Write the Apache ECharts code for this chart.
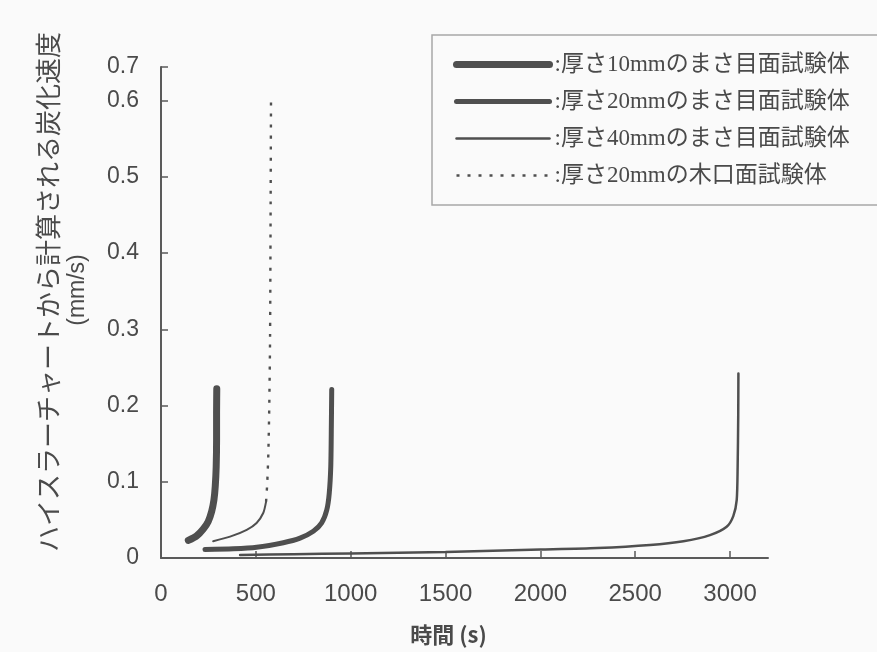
<!DOCTYPE html>
<html>
<head>
<meta charset="utf-8">
<script src="https://cdn.jsdelivr.net/npm/echarts@6/dist/echarts.min.js"></script>
<style>
  html, body { margin: 0; padding: 0; background: #fafafa; }
  #chart { width: 877px; height: 652px; }
</style>
</head>
<body>
<div id="chart"></div>
<script>
// Series names (legend text)
const seriesNames = [
  '厚さ10mmのまさ目面試験体',
  '厚さ20mmのまさ目面試験体',
  '厚さ40mmのまさ目面試験体',
  '厚さ20mmの木口面試験体'
];

// 10 mm edge-grain specimen: time (s) / charring rate (mm/s)
const t10 = [144, 188, 223, 249, 267, 279, 286, 291, 293, 293, 294];
const r10 = [0.023, 0.029, 0.038, 0.048, 0.061, 0.076, 0.094, 0.120, 0.155, 0.190, 0.222];

// 20 mm edge-grain specimen
const t20 = [232, 381, 504, 645, 733, 803, 847, 874, 887, 895, 898, 900];
const r20 = [0.011, 0.012, 0.014, 0.020, 0.026, 0.035, 0.046, 0.063, 0.085, 0.120, 0.172, 0.221];

// 40 mm edge-grain specimen
const t40 = [417, 700, 1000, 1500, 2000, 2300, 2578, 2754, 2894, 2982, 3017, 3035, 3040, 3043, 3044];
const r40 = [0.004, 0.005, 0.006, 0.008, 0.011, 0.013, 0.017, 0.022, 0.030, 0.041, 0.055, 0.076, 0.120, 0.186, 0.242];

// 20 mm end-grain specimen
const tEnd = [275, 364, 452, 504, 539, 554, 560, 566, 571, 575, 578, 580];
const rEnd = [0.022, 0.028, 0.037, 0.046, 0.059, 0.074, 0.098, 0.138, 0.203, 0.290, 0.470, 0.605];
// the low part of the end-grain curve prints as a continuous stroke, the rest dotted
const endSolidCount = 6;

// Axis ticks; the value scale is broken just above 0.6, the frame top carries 0.7
const xTickValues = [0, 500, 1000, 1500, 2000, 2500, 3000];
const yTickValues = [0, 0.1, 0.2, 0.3, 0.4, 0.5, 0.6, 0.644];
const yTickLabels = ['0', '0.1', '0.2', '0.3', '0.4', '0.5', '0.6', '0.7'];

const pairs = (xs, ys) => xs.map((x, i) => [x, ys[i]]);

const ink = '#4f4f4f';
const textColor = '#4a4a4a';
const serifJP = "'Liberation Serif', 'Noto Sans CJK JP', serif";
const sansJP = "'Noto Sans CJK JP', sans-serif";
const sansNum = "'Liberation Sans', Arial, sans-serif";

const chart = echarts.init(document.getElementById('chart'), null, { renderer: 'canvas' });

// no point markers anywhere, so the marker colour is left fully transparent
const lineBase = {
  type: 'line',
  symbol: 'none',
  smooth: 0.25,
  silent: true,
  itemStyle: { color: 'rgba(0,0,0,0)', borderWidth: 0 }
};

chart.setOption({
  backgroundColor: '#fafafa',
  animation: false,
  grid: { left: 161, right: 109, top: 67, bottom: 94, containLabel: false },
  xAxis: {
    type: 'value',
    min: 0,
    max: 3200,
    axisLine: { show: true, lineStyle: { color: '#5a5a5a', width: 2 } },
    axisTick: { show: true, inside: true, length: 7, customValues: xTickValues, lineStyle: { color: '#5a5a5a', width: 1.5 } },
    axisLabel: {
      customValues: xTickValues,
      margin: 24,
      fontSize: 24,
      color: textColor,
      fontFamily: sansNum,
      formatter: function (v) { return String(v); }
    },
    splitLine: { show: false },
    name: '時間 (s)',
    nameLocation: 'middle',
    nameGap: 66,
    nameTextStyle: { fontSize: 22, fontWeight: 'bold', color: textColor, fontFamily: sansJP, padding: [0, 32, 0, 0] }
  },
  yAxis: {
    type: 'value',
    min: 0,
    max: yTickValues[yTickValues.length - 1],
    axisLine: { show: true, lineStyle: { color: '#5a5a5a', width: 2 } },
    axisTick: { show: true, inside: true, length: 7, customValues: yTickValues, lineStyle: { color: '#5a5a5a', width: 1.5 } },
    axisLabel: {
      customValues: yTickValues,
      margin: 22,
      fontSize: 23,
      color: textColor,
      fontFamily: sansNum,
      formatter: function (v) {
        const i = yTickValues.indexOf(v);
        return i >= 0 ? yTickLabels[i] : '';
      }
    },
    splitLine: { show: false }
  },
  legend: {
    data: seriesNames,
    orient: 'vertical',
    left: 432,
    top: 35,
    padding: [18, 60, 18, 21],
    itemWidth: 93,
    itemHeight: 14,
    itemGap: 14,
    borderColor: '#a8a8a8',
    borderWidth: 1.5,
    backgroundColor: '#fafafa',
    selectedMode: false,
    lineStyle: { width: 'inherit' },
    itemStyle: { color: 'rgba(0,0,0,0)', borderWidth: 0 },
    formatter: function (name) { return ':' + name; },
    textStyle: { fontSize: 23, lineHeight: 21, color: textColor, fontFamily: serifJP }
  },
  graphic: [
    {
      type: 'text',
      x: 48,
      y: 292,
      rotation: Math.PI / 2,
      style: {
        text: 'ハイスラーチャートから計算される炭化速度',
        fontSize: 26,
        fontFamily: sansJP,
        fill: textColor,
        align: 'center',
        verticalAlign: 'middle'
      }
    },
    {
      type: 'text',
      x: 78,
      y: 290,
      rotation: Math.PI / 2,
      style: {
        text: '(mm/s)',
        fontSize: 23,
        fontFamily: sansNum,
        fill: textColor,
        align: 'center',
        verticalAlign: 'middle'
      }
    }
  ],
  series: [
    Object.assign({}, lineBase, {
      name: seriesNames[0],
      data: pairs(t10, r10),
      lineStyle: { color: ink, width: 7, cap: 'round' }
    }),
    Object.assign({}, lineBase, {
      name: seriesNames[1],
      data: pairs(t20, r20),
      lineStyle: { color: ink, width: 5, cap: 'round' }
    }),
    Object.assign({}, lineBase, {
      name: seriesNames[2],
      data: pairs(t40, r40),
      lineStyle: { color: ink, width: 2.5, cap: 'round' }
    }),
    Object.assign({}, lineBase, {
      name: seriesNames[3],
      data: pairs(tEnd, rEnd).slice(endSolidCount - 1),
      lineStyle: { color: ink, width: 2.4, type: [3, 8] }
    }),
    Object.assign({}, lineBase, {
      name: seriesNames[3],
      data: pairs(tEnd, rEnd).slice(0, endSolidCount),
      lineStyle: { color: ink, width: 2, cap: 'round' }
    })
  ]
});
</script>
</body>
</html>
